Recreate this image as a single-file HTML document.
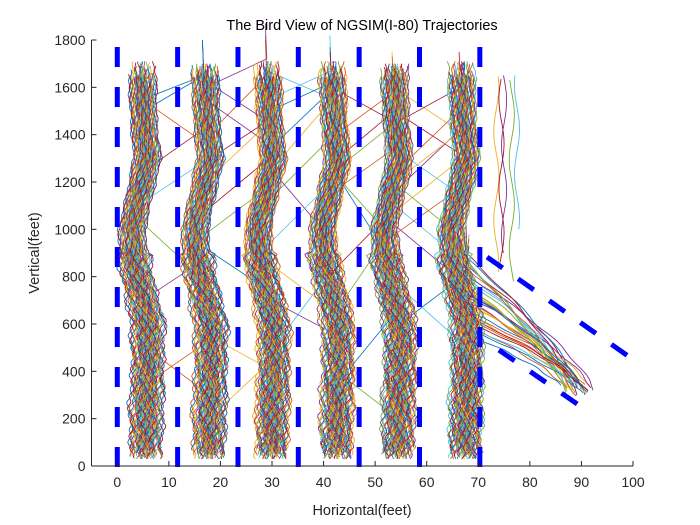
<!DOCTYPE html>
<html><head><meta charset="utf-8"><style>
html,body{margin:0;padding:0;background:#fff;}
svg{display:block;font-family:"Liberation Sans",Arial,sans-serif;}
</style></head><body>
<svg id="chart" width="700" height="525" viewBox="0 0 700 525" xmlns="http://www.w3.org/2000/svg">
<rect x="0" y="0" width="700" height="525" fill="#fff"/>
<text x="362" y="30" font-size="14.5" text-anchor="middle" fill="#000">The Bird View of NGSIM(I-80) Trajectories</text>
<g id="traj"></g>
<g id="lanes"></g>
<g id="axes"></g>
<text x="362" y="515" font-size="14.5" text-anchor="middle" fill="#262626">Horizontal(feet)</text>
<text transform="translate(39,253) rotate(-90)" font-size="14.5" text-anchor="middle" fill="#262626">Vertical(feet)</text>
</svg>
<script>
const xTicks=[0,10,20,30,40,50,60,70,80,90,100];
const yTicks=[0,200,400,600,800,1000,1200,1400,1600,1800];
const laneCenters=[4.6,16.8,29,41.5,53.5,66.5];
const laneLines=[0,11.7,23.4,35.1,46.9,58.6,70.3];
const shiftY=[0,300,400,600,700,850,1000,1150,1300,1450,1650,1720];
const shiftX=[0.6,0.8,1,1,0,-1.5,-2,-0.5,1,0.3,0,0];
const offsets=[-2.6,-2.2,-1.9,-1.7,-1.5,-1.3,-1.1,-1.0,-0.8,-0.7,-0.5,-0.4,-0.3,-0.2,-0.1,0,0.1,0.2,0.3,0.4,0.5,0.6,0.7,0.8,0.9,1.0,1.1,1.3,1.4,1.6,1.8,2.0,2.2,2.4,2.7,3.0];
const startY=[40,60,30,75,50,35,65,45,80,55,30,70];
const endY=[1645,1660,1700,1650,1680,1645,1710,1650,1670,1645,1690,1655];
const lcFrom=[0,1,1,2,2,3,3,4,4,5,0,1,2,3,4,1,2,3,4,5,0,2,3,4,1,3,5,4,2,0,1,3,4,2,5,3,1,2,4,5,0,1,2,3,4,5,3,2,1,0,4,3,2,1,5,4];
const lcTo=[1,0,2,1,3,2,4,3,5,4,1,2,3,4,5,0,1,2,3,4,1,3,4,5,2,4,4,5,1,1,2,2,3,3,4,4,2,3,5,4,1,2,3,4,5,4,4,3,2,1,5,2,1,0,4,3];
const lcY=[1500,1350,1200,1450,1100,1550,1300,900,1250,1400,700,950,500,800,600,300,400,1000,200,500,1250,1350,1150,1050,1600,650,900,1450,750,350,200,550,1000,1550,1300,350,1400,1250,1150,1000,1100,1300,1500,1400,1200,800,1250,900,1050,1550,950,650,1350,800,1150,1450];
const lcLen=[150,200,250,180,300,120,200,350,260,200,150,220,300,250,180,200,150,260,200,300,180,240,200,260,120,300,220,150,200,180,250,160,240,120,200,300,250,300,280,200,200,160,120,180,220,250,200,300,260,100,220,240,200,260,180,150];
const rampX0=[86,87,88,88.5,89,89.5,90,90.5,91,91.5,92,87.5,88,89,90,90.5,91,89.5,88.5,86.5,91,90,89,88,92.5,87,89,90,91,88];
const rampY0=[340,330,320,345,310,335,325,300,320,340,330,315,350,300,310,345,305,330,335,350,315,340,295,325,320,305,340,335,310,330];
const rampMerge=[560,600,650,700,750,800,850,880,620,680,720,770,820,900,580,640,690,740,790,860,610,660,710,760,810,870,590,630,730,840];
const auxX=[73.5,75,76.5,77.5,74.5];
const auxY0=[820,900,780,1000,860];
const colors=['#0072BD','#D95319','#EDB120','#7E2F8E','#77AC30','#4DBEEE','#A2142F'];
const NS='http://www.w3.org/2000/svg';
const L=91.5,R=633,T=40,B=466,XMIN=-5,XMAX=100,YMAX=1800;
function sx(v){return L+(v-XMIN)*(R-L)/(XMAX-XMIN);}
function sy(v){return B-v*(B-T)/YMAX;}
function shift(y){for(let i=0;i<shiftY.length-1;i++){if(y<=shiftY[i+1]){const t=(y-shiftY[i])/(shiftY[i+1]-shiftY[i]);return shiftX[i]+t*(shiftX[i+1]-shiftX[i]);}}return 0;}
function mk(tag,attrs,parent){const e=document.createElementNS(NS,tag);for(const k in attrs)e.setAttribute(k,attrs[k]);parent.appendChild(e);return e;}
const tg=document.getElementById('traj');
let ci=0;
function addPath(pts,name,w){const d=pts.map((p,i)=>(i?'L':'M')+sx(p[0]).toFixed(1)+','+sy(p[1]).toFixed(1)).join('');
const e=mk('path',{d:d,fill:'none',stroke:colors[ci%7],'stroke-width':w||'0.9'},tg);


ci++;}
lcFrom.forEach((f,i)=>{const a=laneCenters[f]+shift(lcY[i]),b=laneCenters[lcTo[i]]+shift(lcY[i]+lcLen[i]);const pts=[[a,lcY[i]-150],[a+0.3,lcY[i]],[b,lcY[i]+lcLen[i]],[b-0.3,lcY[i]+lcLen[i]+150]];addPath(pts,'lane-change','0.8');});
rampX0.forEach((x0,i)=>{const y0=rampY0[i],m=rampMerge[i];const pts=[];for(let t=0;t<=1.001;t+=0.05){const mx=x0-5,my=y0+(m-y0)*0.45;const x=(1-t)*(1-t)*x0+2*t*(1-t)*mx+t*t*67.5;const y=(1-t)*(1-t)*y0+2*t*(1-t)*my+t*t*m;pts.push([x+0.3*Math.sin(t*20+i),y]);}pts.push([67+(i%5)*0.6-1.2,m+120]);addPath(pts,'ramp-trajectory');});
auxX.forEach((x,i)=>{const pts=[];for(let y=auxY0[i];y<=1650;y+=25)pts.push([x+0.5*Math.sin(y/60+i),y]);addPath(pts,'aux-lane-trajectory');});
[0,1].forEach(pass=>{
laneCenters.forEach((c,li)=>{offsets.forEach((o,k)=>{const pts=[];const y0=startY[(k+li+pass*5)%startY.length],y1=endY[(k*3+li+pass)%endY.length];
const oo=o+(pass?0.15:0);
for(let y=y0;y<=y1;y+=10){const amp=y<900?0.9:0.45;const w=amp*(0.35*Math.sin(y/9+k*2.3+pass*3)+0.3*Math.sin(y/23+k*1.1+li)+0.2*Math.sin(y/55+k));pts.push([c+oo*(y<900?1.1:0.9)+shift(y)+w,y]);}
addPath(pts,'trajectory-lane-'+(li+1));});});});
const lg=document.getElementById('lanes');
laneLines.forEach(v=>{const e=mk('line',{x1:sx(v),x2:sx(v),y1:47,y2:467,stroke:'#0000FF','stroke-width':'5','stroke-dasharray':'20 20'},lg);

});
const d1=mk('line',{x1:sx(71.7),y1:sy(883),x2:sx(100),y2:sy(450),stroke:'#0000FF','stroke-width':'5','stroke-dasharray':'19 19'},lg);


const d2=mk('line',{x1:sx(74),y1:sy(490),x2:sx(90),y2:sy(250),stroke:'#0000FF','stroke-width':'5','stroke-dasharray':'19 19'},lg);


const ag=document.getElementById('axes');
const xa=mk('line',{x1:L,x2:R,y1:B,y2:B,stroke:'#262626','stroke-width':'1'},ag);


const ya=mk('line',{x1:L,x2:L,y1:T,y2:B,stroke:'#262626','stroke-width':'1'},ag);


xTicks.forEach(v=>{const t=mk('line',{x1:sx(v),x2:sx(v),y1:B,y2:B-5,stroke:'#262626'},ag);


const l=mk('text',{x:sx(v),y:B+21,'font-size':'14','text-anchor':'middle',fill:'#262626'},ag);l.textContent=v;

});
yTicks.forEach(v=>{const t=mk('line',{x1:L,x2:L+5,y1:sy(v),y2:sy(v),stroke:'#262626'},ag);


const l=mk('text',{x:L-6,y:sy(v)+5,'font-size':'14','text-anchor':'end',fill:'#262626'},ag);l.textContent=v;

});
</script>
</body></html>
